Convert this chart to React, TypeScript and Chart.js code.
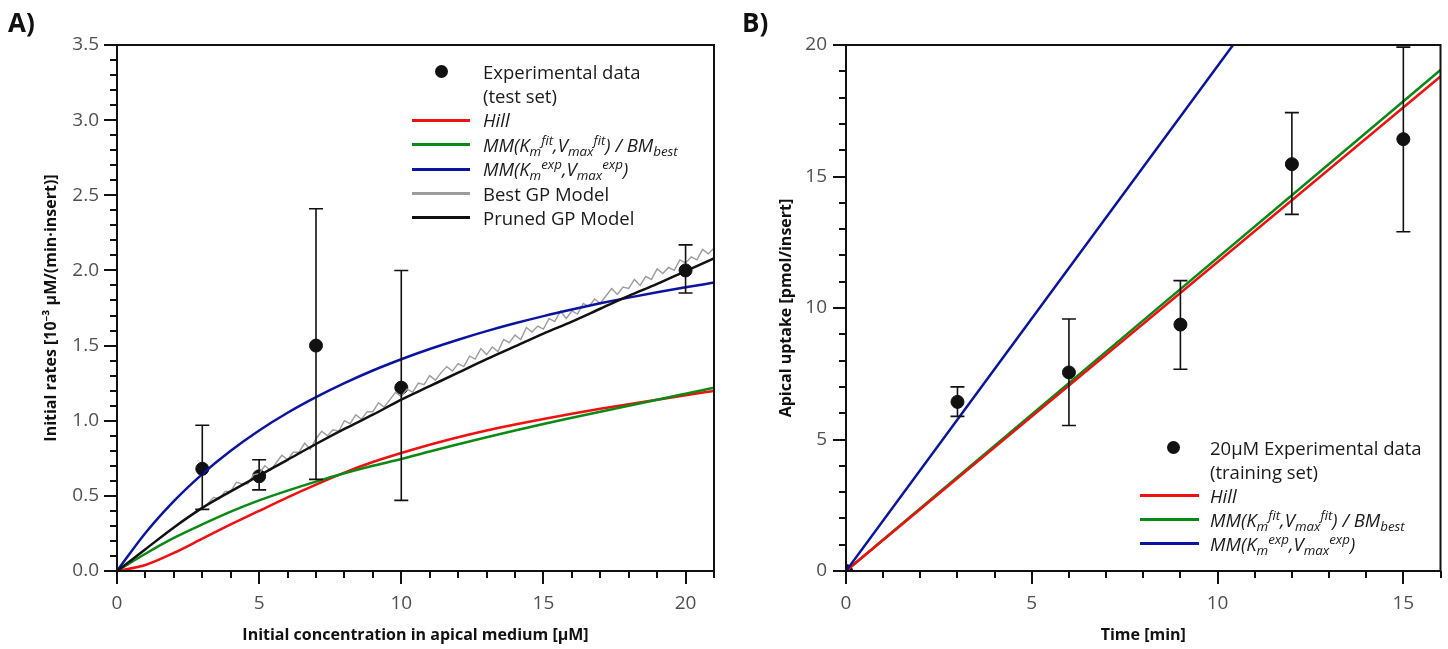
import React, { useEffect, useRef } from "react";
import { Chart, registerables } from "chart.js";

Chart.register(...registerables);

// ---------- Panel A data ----------
const concX = [3, 5, 7, 10, 20];
const rateY = [0.68, 0.63, 1.5, 1.22, 2.0];
const rateLo = [0.41, 0.54, 0.61, 0.47, 1.85];
const rateHi = [0.97, 0.74, 2.41, 2.0, 2.17];

const curveX = [0, 1, 2, 3, 4, 5, 6, 7, 8, 9, 10, 11, 12, 13, 14, 15, 16, 17, 18, 19, 20, 21];
const hillA = [0, 0.04, 0.12, 0.215, 0.31, 0.4, 0.49, 0.575, 0.655, 0.725, 0.785, 0.84, 0.89, 0.935, 0.975, 1.012, 1.047, 1.08, 1.11, 1.14, 1.17, 1.198];
const mmFitA = [0, 0.115, 0.22, 0.31, 0.395, 0.47, 0.535, 0.595, 0.65, 0.7, 0.745, 0.795, 0.843, 0.89, 0.935, 0.978, 1.02, 1.06, 1.1, 1.14, 1.18, 1.22];
const mmExpA = [0, 0.253, 0.465, 0.645, 0.8, 0.935, 1.053, 1.157, 1.25, 1.334, 1.409, 1.477, 1.539, 1.596, 1.648, 1.696, 1.74, 1.781, 1.819, 1.855, 1.888, 1.919];
const prunedGP = [0, 0.145, 0.29, 0.42, 0.53, 0.635, 0.74, 0.845, 0.945, 1.04, 1.14, 1.23, 1.32, 1.41, 1.495, 1.58, 1.66, 1.745, 1.83, 1.91, 1.995, 2.08];

const bestGPX = [3.2, 3.4, 3.6, 3.8, 4.0, 4.2, 4.4, 4.6, 4.8, 5.0, 5.2, 5.4, 5.6, 5.8, 6.0, 6.2, 6.4, 6.6, 6.8, 7.0, 7.2, 7.4, 7.6, 7.8, 8.0, 8.2, 8.4, 8.6, 8.8, 9.0, 9.2, 9.4, 9.6, 9.8, 10.0, 10.2, 10.4, 10.6, 10.8, 11.0, 11.2, 11.4, 11.6, 11.8, 12.0, 12.2, 12.4, 12.6, 12.8, 13.0, 13.2, 13.4, 13.6, 13.8, 14.0, 14.2, 14.4, 14.6, 14.8, 15.0, 15.2, 15.4, 15.6, 15.8, 16.0, 16.2, 16.4, 16.6, 16.8, 17.0, 17.2, 17.4, 17.6, 17.8, 18.0, 18.2, 18.4, 18.6, 18.8, 19.0, 19.2, 19.4, 19.6, 19.8, 20.0, 20.2, 20.4, 20.6, 20.8, 21.0];
const bestGPY = [0.45, 0.49, 0.48, 0.53, 0.53, 0.59, 0.58, 0.58, 0.64, 0.65, 0.7, 0.67, 0.72, 0.77, 0.74, 0.79, 0.79, 0.85, 0.81, 0.88, 0.93, 0.9, 0.94, 0.93, 1.0, 0.98, 1.04, 1.01, 1.06, 1.06, 1.12, 1.09, 1.14, 1.19, 1.16, 1.21, 1.19, 1.25, 1.24, 1.3, 1.27, 1.32, 1.36, 1.33, 1.38, 1.36, 1.43, 1.41, 1.48, 1.44, 1.49, 1.46, 1.54, 1.52, 1.57, 1.54, 1.62, 1.59, 1.63, 1.61, 1.68, 1.66, 1.73, 1.68, 1.73, 1.71, 1.78, 1.76, 1.81, 1.78, 1.83, 1.88, 1.84, 1.89, 1.88, 1.94, 1.9, 1.96, 1.94, 2.01, 1.98, 2.02, 2.0, 2.07, 2.05, 2.09, 2.07, 2.14, 2.11, 2.15];

// ---------- Panel B data ----------
const timeX = [0, 3, 6, 9, 12, 15];
const uptakeY = [0, 6.43, 7.55, 9.37, 15.47, 16.42];
const uptakeLo = [0, 5.88, 5.53, 7.67, 13.56, 12.9];
const uptakeHi = [0, 7.0, 9.58, 11.04, 17.43, 19.92];

const lineTimeX = [0, 4, 8, 12, 16];
const hillB = [0, 4.7, 9.4, 14.1, 18.8];
const mmFitB = [0, 4.76, 9.53, 14.29, 19.05];
const mmExpB = [0, 7.68, 15.36, 23.04, 30.72];

const RED = "#f01010";
const GREEN = "#0a8a14";
const BLUE = "#0a14a0";
const GRAY = "#9c9c9c";
const BLACK = "#111111";
const FONT = "'Open Sans', 'Noto Sans', 'DejaVu Sans', sans-serif";

const pts = (xs: number[], ys: number[]) => xs.map((x, i) => ({ x, y: ys[i] }));

const frameTicks = {
  id: "frameTicks",
  afterDatasetsDraw(chart: any, _args: any, opts: any) {
    if (!opts || !opts.xMinor) return;
    const { ctx, chartArea: a, scales } = chart;
    const xs = scales.x;
    const ys = scales.y;
    ctx.save();
    ctx.strokeStyle = BLACK;
    ctx.lineWidth = 2;
    ctx.strokeRect(a.left, a.top, a.right - a.left, a.bottom - a.top);
    ctx.beginPath();
    const isMajor = (v: number, m: number) => Math.abs(v / m - Math.round(v / m)) < 1e-6;
    const nx = Math.round((xs.max - xs.min) / opts.xMinor);
    for (let i = 0; i <= nx; i++) {
      const v = xs.min + i * opts.xMinor;
      const px = Math.round(xs.getPixelForValue(v));
      ctx.moveTo(px, a.bottom);
      ctx.lineTo(px, a.bottom + (isMajor(v, opts.xMajor) ? 13 : 7));
    }
    const ny = Math.round((ys.max - ys.min) / opts.yMinor);
    for (let i = 0; i <= ny; i++) {
      const v = ys.min + i * opts.yMinor;
      const py = Math.round(ys.getPixelForValue(v));
      ctx.moveTo(a.left, py);
      ctx.lineTo(a.left - (isMajor(v, opts.yMajor) ? 13 : 7), py);
    }
    ctx.stroke();
    ctx.restore();
  },
};

const errorBars = {
  id: "errorBars",
  afterDatasetsDraw(chart: any, _args: any, opts: any) {
    if (!opts || !opts.x) return;
    const { ctx, scales } = chart;
    const xs = scales.x;
    const ys = scales.y;
    ctx.save();
    ctx.strokeStyle = BLACK;
    ctx.lineWidth = 1.6;
    ctx.beginPath();
    opts.x.forEach((xv: number, i: number) => {
      if (opts.lo[i] === opts.hi[i]) return;
      const px = xs.getPixelForValue(xv);
      const lo = ys.getPixelForValue(opts.lo[i]);
      const hi = ys.getPixelForValue(opts.hi[i]);
      ctx.moveTo(px, lo);
      ctx.lineTo(px, hi);
      ctx.moveTo(px - 7, lo);
      ctx.lineTo(px + 7, lo);
      ctx.moveTo(px - 7, hi);
      ctx.lineTo(px + 7, hi);
    });
    ctx.stroke();
    ctx.restore();
  },
};

Chart.register(frameTicks as any, errorBars as any);

const lineDs = (label: string, data: any[], color: string, order: number, width = 2.5, smooth = true) => ({
  label,
  data,
  borderColor: color,
  backgroundColor: color,
  borderWidth: width,
  pointRadius: 0,
  showLine: true,
  fill: false,
  order,
  cubicInterpolationMode: smooth ? "monotone" : "default",
  tension: 0,
});

const scaleBase = (min: number, max: number, step: number, fmt: (v: number) => string, title: string, isY: boolean, sz: number, titlePad: any, tickPad: number) => ({
  type: "linear",
  min,
  max,
  grid: { display: false, drawTicks: false },
  border: { display: false },
  ticks: {
    stepSize: step,
    includeBounds: false,
    autoSkip: false,
    maxRotation: 0,
    padding: tickPad,
    color: "#505050",
    font: { family: FONT, size: 19 },
    callback: (v: any) => fmt(Number(v)),
  },
  title: {
    display: true,
    text: title,
    color: "#111",
    font: { family: FONT, size: 16, weight: "bold" },
    padding: titlePad,
  },
  afterFit: (s: any) => {
    if (isY) s.width = sz;
    else s.height = sz;
  },
});

function makeA(canvas: HTMLCanvasElement) {
  return new Chart(canvas, {
    type: "scatter",
    data: {
      datasets: [
        {
          label: "Experimental data (test set)",
          data: pts(concX, rateY),
          pointRadius: 6.5,
          pointBackgroundColor: BLACK,
          pointBorderColor: BLACK,
          showLine: false,
          order: 10,
        } as any,
        lineDs("Hill", pts(curveX, hillA), RED, 6),
        lineDs("MM fit / BM best", pts(curveX, mmFitA), GREEN, 5),
        lineDs("Best GP Model", pts(bestGPX, bestGPY), GRAY, 4, 1.4, false),
        lineDs("MM exp", pts(curveX, mmExpA), BLUE, 3),
        lineDs("Pruned GP Model", pts(curveX, prunedGP), BLACK, 2),
      ],
    },
    options: {
      responsive: false,
      animation: false,
      devicePixelRatio: 1,
      layout: { padding: { left: 0, right: 10, top: 45, bottom: 0 } },
      plugins: {
        legend: { display: false },
        tooltip: { enabled: false },
        frameTicks: { xMinor: 1, xMajor: 5, yMinor: 0.1, yMajor: 0.5 },
        errorBars: { x: concX, lo: rateLo, hi: rateHi },
      } as any,
      scales: {
        x: scaleBase(0, 21, 5, (v) => String(v), "Initial concentration in apical medium [µM]", false, 78, { top: 0, bottom: 4 }, 21),
        y: scaleBase(0, 3.5, 0.5, (v) => v.toFixed(1), "Initial rates [10⁻³ µM/(min·insert)]", true, 117, { top: 42, bottom: 0 }, 18),
      } as any,
    },
  } as any);
}

function makeB(canvas: HTMLCanvasElement) {
  return new Chart(canvas, {
    type: "scatter",
    data: {
      datasets: [
        {
          label: "20µM Experimental data (training set)",
          data: pts(timeX, uptakeY),
          pointRadius: 6.5,
          pointBackgroundColor: BLACK,
          pointBorderColor: BLACK,
          showLine: false,
          order: 10,
        } as any,
        lineDs("Hill", pts(lineTimeX, hillB), RED, 3, 2.5, false),
        lineDs("MM fit / BM best", pts(lineTimeX, mmFitB), GREEN, 4, 2.5, false),
        lineDs("MM exp", pts(lineTimeX, mmExpB), BLUE, 2, 2.5, false),
      ],
    },
    options: {
      responsive: false,
      animation: false,
      devicePixelRatio: 1,
      layout: { padding: { left: 0, right: 4, top: 45, bottom: 0 } },
      plugins: {
        legend: { display: false },
        tooltip: { enabled: false },
        frameTicks: { xMinor: 1, xMajor: 5, yMinor: 1, yMajor: 5 },
        errorBars: { x: timeX, lo: uptakeLo, hi: uptakeHi },
      } as any,
      scales: {
        x: scaleBase(0, 16, 5, (v) => String(v), "Time [min]", false, 78, { top: 0, bottom: 4 }, 21),
        y: scaleBase(0, 20, 5, (v) => String(v), "Apical uptake [pmol/insert]", true, 122, { top: 53, bottom: 0 }, 19),
      } as any,
    },
  } as any);
}

const Sub = ({ children }: any) => (
  <span style={{ fontSize: "0.72em", verticalAlign: "-0.3em", lineHeight: 0 }}>{children}</span>
);
const Sup = ({ children }: any) => (
  <span style={{ fontSize: "0.72em", verticalAlign: "0.55em", lineHeight: 0 }}>{children}</span>
);

const mmFitLabel = (
  <i>
    MM(K<Sub>m</Sub>
    <Sup>fit</Sup>,V<Sub>max</Sub>
    <Sup>fit</Sup>) / BM<Sub>best</Sub>
  </i>
);
const mmExpLabel = (
  <i>
    MM(K<Sub>m</Sub>
    <Sup>exp</Sup>,V<Sub>max</Sub>
    <Sup>exp</Sup>)
  </i>
);

type Row = { sym: "dot" | "line" | null; color?: string; label: any };

function Legend({ rows, top, step, lineX1, lineX2, dotX, textX }: { rows: Row[]; top: number; step: number; lineX1: number; lineX2: number; dotX: number; textX: number }) {
  return (
    <>
      {rows.map((r, i) => {
        const cy = top + i * step;
        return (
          <React.Fragment key={i}>
            {r.sym === "line" && (
              <div style={{ position: "absolute", left: lineX1, top: cy - 1.5, width: lineX2 - lineX1, height: 3, background: r.color }} />
            )}
            {r.sym === "dot" && (
              <div style={{ position: "absolute", left: dotX - 6.5, top: cy - 6.5, width: 13, height: 13, borderRadius: "50%", background: BLACK }} />
            )}
            <div
              style={{
                position: "absolute",
                left: textX,
                top: cy - 12,
                height: 24,
                lineHeight: "24px",
                fontFamily: FONT,
                fontSize: 18.5,
                color: "#1a1a1a",
                whiteSpace: "nowrap",
              }}
            >
              {r.label}
            </div>
          </React.Fragment>
        );
      })}
    </>
  );
}

const legendRowsA: Row[] = [
  { sym: "dot", label: "Experimental data" },
  { sym: null, label: "(test set)" },
  { sym: "line", color: RED, label: <i>Hill</i> },
  { sym: "line", color: GREEN, label: mmFitLabel },
  { sym: "line", color: BLUE, label: mmExpLabel },
  { sym: "line", color: GRAY, label: "Best GP Model" },
  { sym: "line", color: BLACK, label: "Pruned GP Model" },
];

const legendRowsB: Row[] = [
  { sym: "dot", label: "20µM Experimental data" },
  { sym: null, label: "(training set)" },
  { sym: "line", color: RED, label: <i>Hill</i> },
  { sym: "line", color: GREEN, label: mmFitLabel },
  { sym: "line", color: BLUE, label: mmExpLabel },
];

export default function App() {
  const refA = useRef<HTMLCanvasElement>(null);
  const refB = useRef<HTMLCanvasElement>(null);

  useEffect(() => {
    const a = makeA(refA.current!);
    const b = makeB(refB.current!);
    return () => {
      a.destroy();
      b.destroy();
    };
  }, []);

  const panelLabel = (text: string, left: number) => (
    <div style={{ position: "absolute", left, top: 6, fontFamily: FONT, fontWeight: 700, fontSize: 26, lineHeight: "32px", color: "#111" }}>{text}</div>
  );

  return (
    <div style={{ position: "fixed", left: 0, top: 0, width: 1448, height: 649, background: "#fff", overflow: "hidden" }}>
      <canvas ref={refA} width={724} height={649} style={{ position: "absolute", left: 0, top: 0, width: 724, height: 649 }} />
      <canvas ref={refB} width={724} height={649} style={{ position: "absolute", left: 724, top: 0, width: 724, height: 649 }} />
      {panelLabel("A)", 8)}
      {panelLabel("B)", 742)}
      <Legend rows={legendRowsA} top={71.5} step={24.4} lineX1={412} lineX2={470} dotX={441} textX={483} />
      <Legend rows={legendRowsB} top={447.5} step={24} lineX1={1140} lineX2={1199} dotX={1173} textX={1210} />
    </div>
  );
}
